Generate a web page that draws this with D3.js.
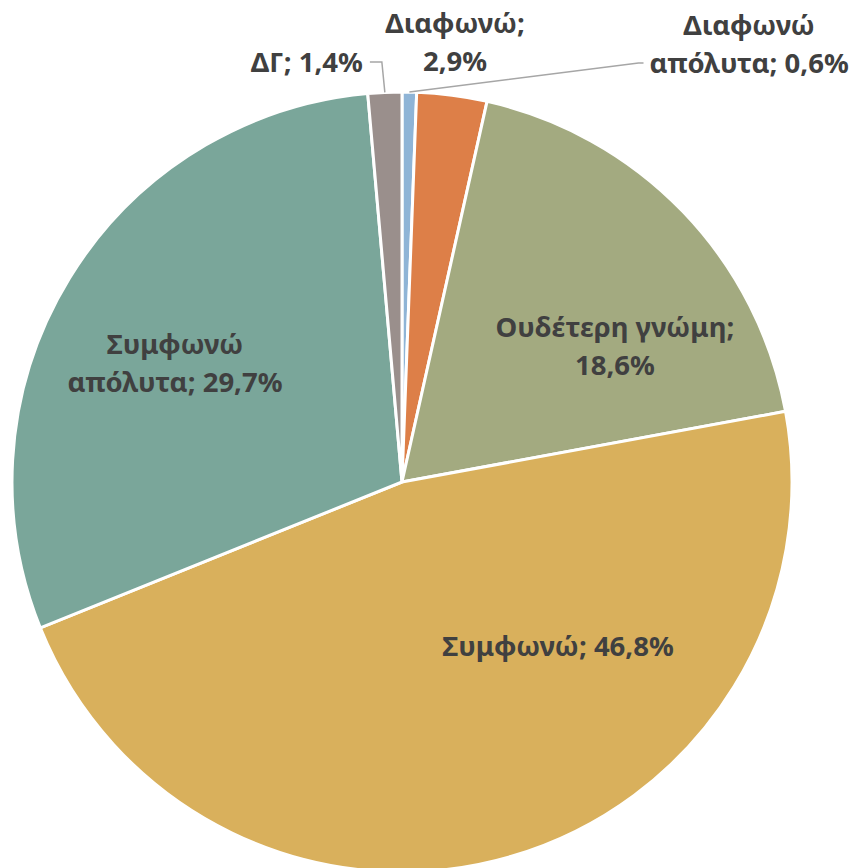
<!DOCTYPE html>
<html>
<head>
<meta charset="utf-8">
<script src="https://cdn.jsdelivr.net/npm/d3@7"></script>
<style>
  body { margin: 0; background: #fff; }
  text { font-family: "Noto Sans", "DejaVu Sans", sans-serif; font-weight: bold; fill: #404040; }
</style>
</head>
<body>
<div id="chart"></div>
<script>
// slices, clockwise from 12 o'clock
var categories = ["Διαφωνώ απόλυτα", "Διαφωνώ", "Ουδέτερη γνώμη", "Συμφωνώ", "Συμφωνώ απόλυτα", "ΔΓ"];
var values = [0.6, 2.9, 18.6, 46.8, 29.7, 1.4];
var colours = ["#8fb4d6", "#dd7f48", "#a3aa80", "#d9b05c", "#7aa69a", "#9a8f8c"];
// label text lines
var labelLines = [
    ["Διαφωνώ", "απόλυτα; 0,6%"],
    ["Διαφωνώ;", "2,9%"],
    ["Ουδέτερη γνώμη;", "18,6%"],
    ["Συμφωνώ; 46,8%"],
    ["Συμφωνώ", "απόλυτα; 29,7%"],
    ["ΔΓ; 1,4%"]
];

var width = 856, height = 868;
var cx = 402, cy = 482, radius = 390;
var fontSize = 27.5, lineGap = 38;

// label block centres in radius units (Excel best-fit placement)
var labelOffsets = [[0.890, -1.123], [0.136, -1.126], [0.546, -0.349], [0.400, 0.421], [-0.582, -0.303], [-0.244, -1.077]];
var leaderSlices = [0, 5];

var svg = d3.select("#chart").append("svg")
    .attr("width", width)
    .attr("height", height);

var g = svg.append("g")
    .attr("transform", "translate(" + cx + "," + cy + ")");

var pie = d3.pie().sort(null).value(function(d) { return d; });
var arcs = pie(values);

var arc = d3.arc().innerRadius(0).outerRadius(radius);
var rimArc = d3.arc().innerRadius(radius).outerRadius(radius);

g.selectAll(".slice")
    .data(arcs)
    .enter().append("path")
    .attr("class", "slice")
    .attr("d", arc)
    .attr("fill", function(d, i) { return colours[i]; })
    .attr("stroke", "#fff")
    .attr("stroke-width", 3)
    .attr("stroke-linejoin", "miter");

var labels = g.selectAll(".label")
    .data(arcs)
    .enter().append("text")
    .attr("class", "label")
    .attr("text-anchor", "middle")
    .attr("font-size", fontSize + "px")
    .attr("transform", function(d, i) {
        return "translate(" + (labelOffsets[i][0] * radius) + "," + (labelOffsets[i][1] * radius) + ")";
    });

labels.each(function(d, i) {
    var lines = labelLines[i];
    var t = d3.select(this);
    lines.forEach(function(line, j) {
        t.append("tspan")
            .attr("x", 0)
            .attr("y", (j - (lines.length - 1) / 2) * lineGap)
            .attr("dy", "0.35em")
            .text(line);
    });
});

// leader lines for the two small outside slices
leaderSlices.forEach(function(i) {
    var d = arcs[i];
    var p0 = rimArc.centroid(d);
    var node = labels.nodes()[i];
    var box = node.getBBox();
    var lx = labelOffsets[i][0] * radius, ly = labelOffsets[i][1] * radius;
    var lineY = ly + (labelLines[i].length - 1) / 2 * lineGap;
    var pts;
    if (p0[0] < lx) {
        // label to the right: attach at left edge of last line
        var lastW = node.querySelectorAll("tspan")[labelLines[i].length - 1].getComputedTextLength();
        var ex = lx - lastW / 2 - 6;
        pts = [p0, [ex - 5, lineY], [ex, lineY]];
    } else {
        var ex2 = lx + box.width / 2 + 7;
        pts = [p0, [p0[0] - 3, lineY], [ex2, lineY]];
    }
    g.append("path")
        .attr("d", d3.line()(pts))
        .attr("fill", "none")
        .attr("stroke", "#a6a6a6")
        .attr("stroke-width", 1.5);
});
</script>
</body>
</html>
